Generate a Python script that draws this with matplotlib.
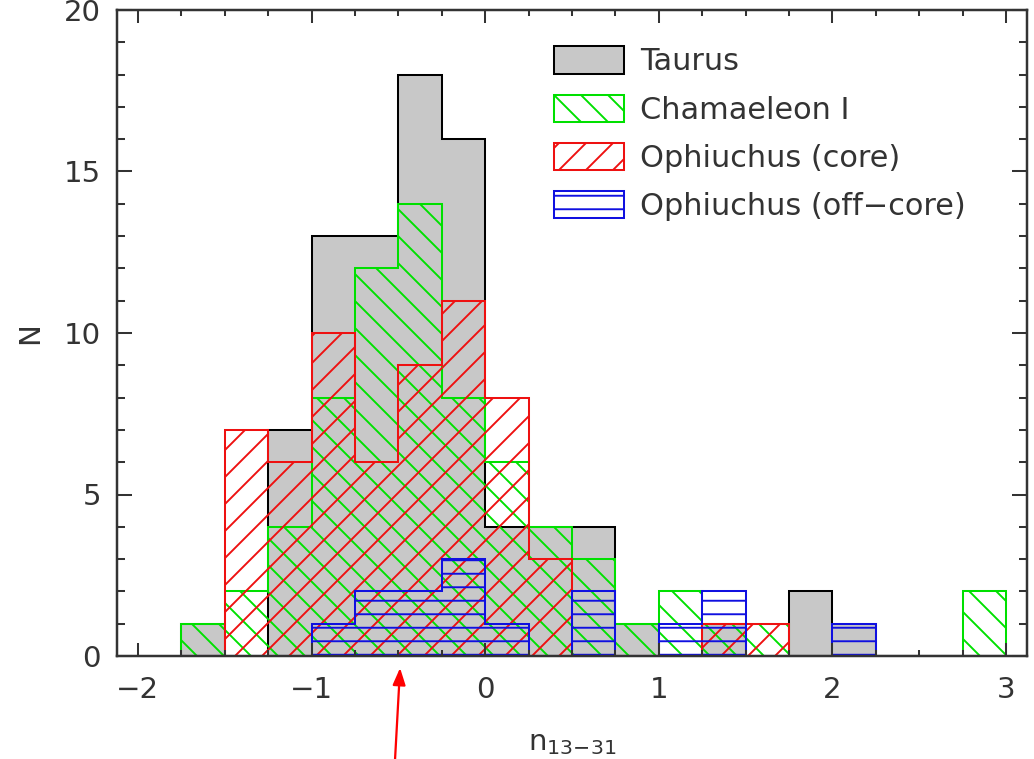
#!/usr/bin/env python3
"""Histograms of n_13-31 for Taurus, Chamaeleon I and Ophiuchus."""

import numpy as np
import matplotlib
matplotlib.use("Agg")
import matplotlib.pyplot as plt
from matplotlib.ticker import MultipleLocator

DPI = 162

# bin edges (width 0.25) and counts per bin
bin_edges = np.linspace(-1.75, 3.0, 20)
taurus = [1, 0, 7, 13, 13, 18, 16, 4, 4, 4, 1, 0, 1, 0, 2, 1, 0, 0, 0]
chamaeleon = [1, 2, 4, 8, 12, 14, 8, 6, 4, 3, 1, 2, 1, 1, 0, 0, 0, 0, 2]
oph_core = [0, 7, 6, 10, 6, 9, 11, 8, 3, 0, 0, 0, 1, 1, 0, 0, 0, 0, 0]
oph_offcore = [0, 0, 0, 1, 2, 2, 3, 1, 0, 2, 0, 1, 2, 0, 0, 1, 0, 0, 0]

labels = ["Taurus", "Chamaeleon I", "Ophiuchus (core)", "Ophiuchus (off\u2212core)"]
ARROW_X = -0.49


def main():
    """Main function."""
    plt.rcParams["font.family"] = ["DejaVu Sans"]
    plt.rcParams["hatch.linewidth"] = 0.85

    fig = plt.figure(figsize=(1034 / DPI, 759 / DPI), dpi=DPI)
    ax = fig.add_axes([117 / 1034, 103 / 759, 910 / 1034, 646 / 759])

    lw = 0.9
    ax.stairs(taurus, bin_edges, fill=True, facecolor="#c8c8c8",
              edgecolor="black", linewidth=lw, label=labels[0])
    ax.stairs(chamaeleon, bin_edges, fill=True, facecolor="none",
              edgecolor="#00e000", hatch="\\\\", linewidth=lw, label=labels[1])
    ax.stairs(oph_core, bin_edges, fill=True, facecolor="none",
              edgecolor="#ee1111", hatch="//", linewidth=lw, label=labels[2])
    ax.stairs(oph_offcore, bin_edges, fill=True, facecolor="none",
              edgecolor="#1010e0", hatch="--", linewidth=lw, label=labels[3])

    ax.set_xlim(-2.12, 3.12)
    ax.set_ylim(0, 20)
    ax.xaxis.set_major_locator(MultipleLocator(1))
    ax.xaxis.set_minor_locator(MultipleLocator(0.25))
    ax.yaxis.set_major_locator(MultipleLocator(5))
    ax.yaxis.set_minor_locator(MultipleLocator(1))
    ax.tick_params(which="both", direction="in", top=True, right=True,
                   width=0.9, color="#333333", labelsize=13, labelcolor="#333333")
    ax.tick_params(axis="x", which="major", length=5.8, pad=9)
    ax.tick_params(axis="x", which="minor", length=2.8)
    ax.tick_params(axis="y", which="major", length=6.5, pad=7)
    ax.tick_params(axis="y", which="minor", length=3.6)
    for sp in ax.spines.values():
        sp.set_linewidth(1.1)
        sp.set_color("#333333")

    ax.set_xlabel(r"$\mathregular{n_{13{-}31}}$", fontsize=13, color="#333333",
                  labelpad=11)
    ax.set_ylabel("N", fontsize=13, color="#333333", labelpad=9)

    leg = ax.legend(loc="upper left", bbox_to_anchor=(0.480, 0.9435),
                    frameon=False, fontsize=13.5, handlelength=2.3,
                    handleheight=1.0, handletextpad=0.53, labelspacing=0.60,
                    borderpad=0, borderaxespad=0)
    for t in leg.get_texts():
        t.set_color("#333333")

    ax.annotate("", xy=(ARROW_X, -0.37), xytext=(ARROW_X - 0.03, -3.3),
                annotation_clip=False,
                arrowprops=dict(arrowstyle="-|>,head_length=0.45,head_width=0.17",
                                color="red", lw=1.0, mutation_scale=14,
                                shrinkA=0, shrinkB=0))

    fig.savefig("out.png", dpi=DPI)


if __name__ == "__main__":
    main()
